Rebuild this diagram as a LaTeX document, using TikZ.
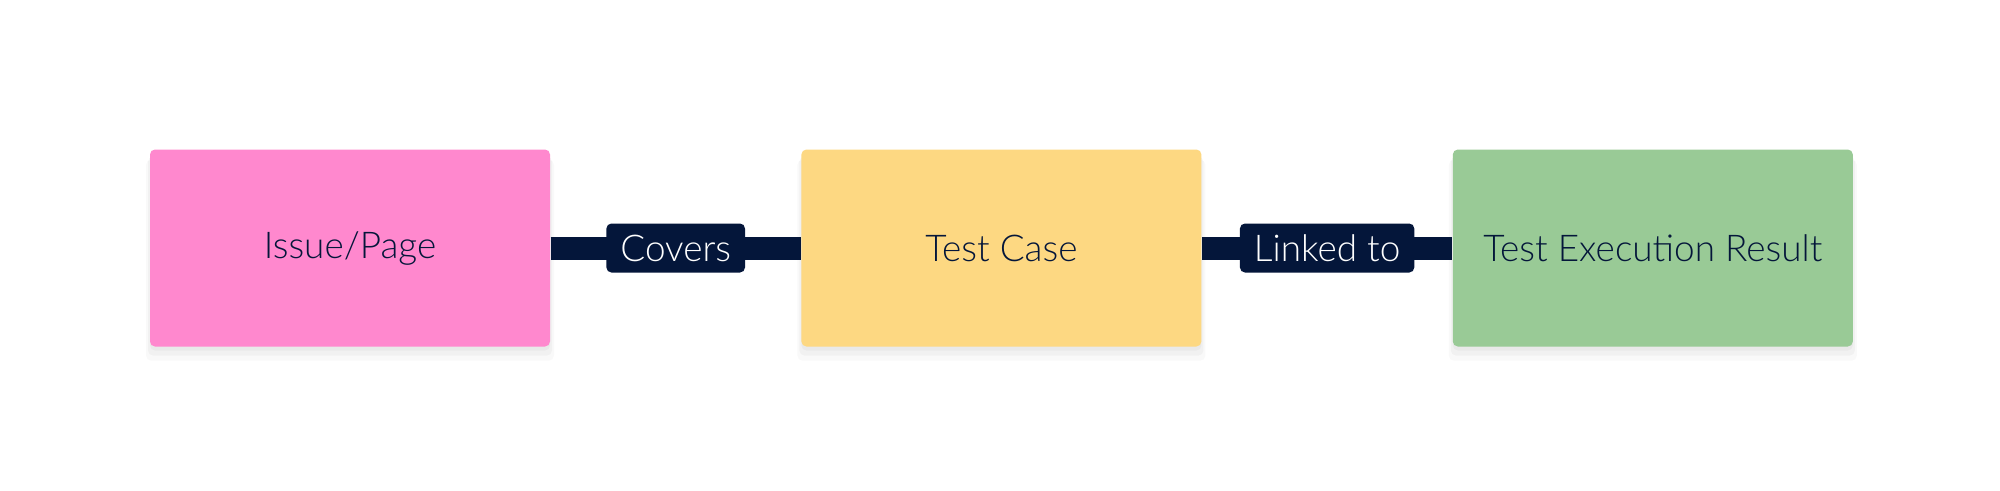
\documentclass[tikz,border=0pt]{standalone}
\usepackage{fontspec}
\setmainfont{Lato}[UprightFont=* Light]
\usepackage{tikz}
\usetikzlibrary{shadows}
\usetikzlibrary{positioning}

\definecolor{navy}{HTML}{04163A}
\definecolor{issuepink}{HTML}{FF88CE}
\definecolor{caseyellow}{HTML}{FDD882}
\definecolor{resultgreen}{HTML}{99CA96}

\tikzset{
  entity/.style={rectangle, rounded corners=0.5mm, minimum width=4cm, minimum height=1.97cm,
    text=navy, font=\fontsize{10.5}{12}\selectfont,
    drop shadow={shadow xshift=0pt, shadow yshift=-1.2mm, shadow scale=1.02, opacity=0.025, fill=black},
    drop shadow={shadow xshift=0pt, shadow yshift=-0.8mm, shadow scale=1.01, opacity=0.03, fill=black},
    drop shadow={shadow xshift=0pt, shadow yshift=-0.4mm, opacity=0.03, fill=black}},
  relation/.style={rectangle, rounded corners=0.5mm, fill=navy, text=white, minimum height=0.49cm,
    inner xsep=1.4mm, inner ysep=0pt, font=\fontsize{10.5}{12}\selectfont}
}

\begin{document}
\begin{tikzpicture}
    \useasboundingbox[fill=white] (0,0) rectangle (20,4.9);

    \node[entity, fill=issuepink] (issue) at (3.5,2.42) {Issue/Page};
    \node[entity, fill=caseyellow, right=2.5cm of issue] (testcase) {Test Case};
    \node[entity, fill=resultgreen, right=2.5cm of testcase] (result) {Test Execution Result};

    \draw[navy, line width=0.23cm] (issue) -- node[relation] {Covers} (testcase);
    \draw[navy, line width=0.23cm] (testcase) -- node[relation] {Linked to} (result);
  \end{tikzpicture}
\end{document}
